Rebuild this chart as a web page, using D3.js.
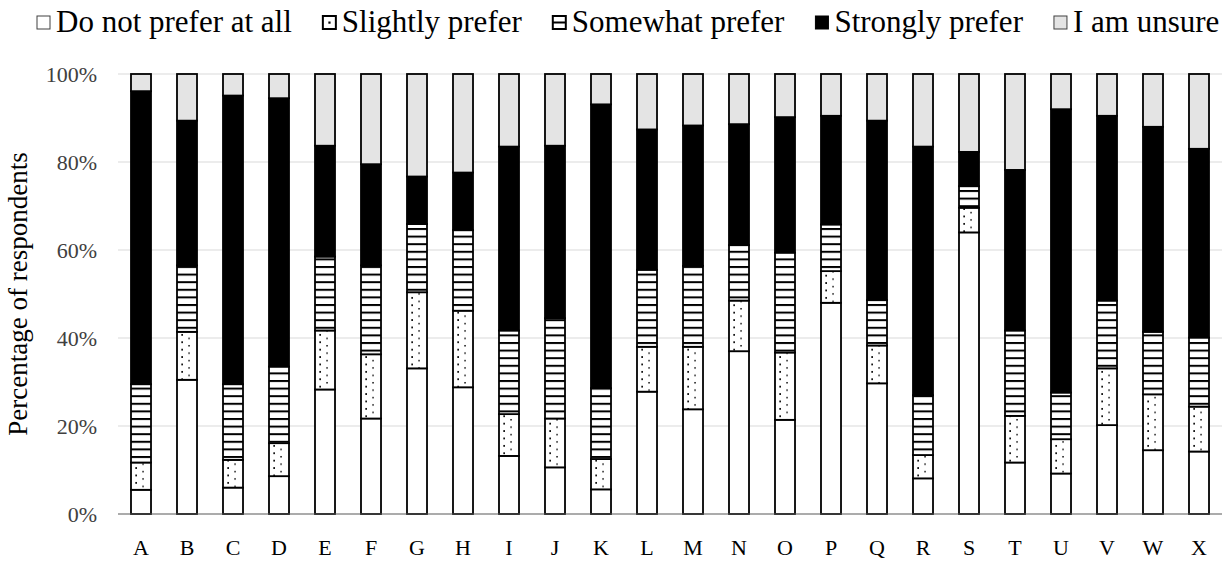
<!DOCTYPE html>
<html>
<head>
<meta charset="utf-8">
<script src="https://cdn.jsdelivr.net/npm/d3@7"></script>
<style>
  html, body { margin: 0; padding: 0; background: #fff; }
  svg { display: block; font-family: "Liberation Serif", "Times New Roman", serif; }
</style>
</head>
<body>
<svg id="chart" width="1226" height="562"></svg>
<script>
const categories = ["A","B","C","D","E","F","G","H","I","J","K","L","M","N","O","P","Q","R","S","T","U","V","W","X"];
const seriesNames = ["Do not prefer at all","Slightly prefer","Somewhat prefer","Strongly prefer","I am unsure"];
const doNotPrefer    = [5.5, 30.5, 6.0, 8.6, 28.3, 21.7, 33.1, 28.8, 13.2, 10.6, 5.6, 27.8, 23.8, 37.0, 21.4, 48.0, 29.7, 8.1, 64.0, 11.7, 9.2, 20.2, 14.5, 14.2];
const slightlyPrefer = [6.2, 10.9, 6.3, 7.5, 13.4, 14.6, 17.3, 17.4, 9.5, 11.1, 6.9, 10.2, 14.2, 11.5, 15.3, 7.2, 8.6, 5.3, 5.6, 10.6, 7.8, 12.9, 12.7, 10.2];
const somewhatPrefer = [17.8, 15.1, 17.2, 17.4, 16.8, 20.2, 15.5, 18.3, 19.0, 22.8, 16.1, 17.5, 18.4, 12.6, 22.7, 10.6, 10.3, 13.6, 4.9, 19.4, 10.6, 15.4, 14.2, 15.7];
const stronglyPrefer = [66.6, 32.9, 65.6, 61.0, 25.2, 23.0, 10.8, 13.1, 41.8, 39.2, 64.5, 31.9, 31.9, 27.5, 30.8, 24.7, 40.8, 56.5, 7.8, 36.5, 64.4, 42.0, 46.6, 42.9];
const unsure         = [3.9, 10.6, 4.9, 5.5, 16.3, 20.5, 23.3, 22.4, 16.5, 16.3, 6.9, 12.6, 11.7, 11.4, 9.8, 9.5, 10.6, 16.5, 17.7, 21.8, 8.0, 9.5, 12.0, 17.0];
const yTicks = [0, 20, 40, 60, 80, 100];
const yTickLabels = ["0%", "20%", "40%", "60%", "80%", "100%"];
const yTitle = "Percentage of respondents";

const seriesValues = [doNotPrefer, slightlyPrefer, somewhatPrefer, stronglyPrefer, unsure];
const keys = seriesNames;
const table = categories.map((c, i) => {
  const row = { cat: c };
  keys.forEach((k, j) => row[k] = seriesValues[j][i]);
  return row;
});

const svg = d3.select("#chart");
const defs = svg.append("defs");

// patterns
const pDots = defs.append("pattern").attr("id", "dots").attr("patternUnits", "userSpaceOnUse")
  .attr("width", 23).attr("height", 7.4);
pDots.append("rect").attr("width", 23).attr("height", 7.4).attr("fill", "#fff");
pDots.append("rect").attr("x", 20.3).attr("y", 1).attr("width", 1.7).attr("height", 1.7).attr("fill", "#000");
pDots.append("rect").attr("x", 4.3).attr("y", 4.6).attr("width", 1.5).attr("height", 1.5).attr("fill", "#111");

const pStripes = defs.append("pattern").attr("id", "stripes").attr("patternUnits", "userSpaceOnUse")
  .attr("width", 8).attr("height", 7.6);
pStripes.append("rect").attr("width", 8).attr("height", 7.6).attr("fill", "#fff");
pStripes.append("rect").attr("x", 0).attr("y", 0).attr("width", 8).attr("height", 2).attr("fill", "#000");

const fills = ["#ffffff", "url(#dots)", "url(#stripes)", "#000000", "#e4e4e4"];

const x = d3.scaleBand().domain(categories).range([118, 1222]).paddingInner(0.565).paddingOuter(0.2825);
const y = d3.scaleLinear().domain([0, 100]).range([514, 74]);

// gridlines
svg.append("g").selectAll("line").data(yTicks.filter(t => t > 0)).join("line")
  .attr("x1", 118).attr("x2", 1222)
  .attr("y1", d => y(d)).attr("y2", d => y(d))
  .attr("stroke", "#d9d9d9").attr("stroke-width", 1);

const stack = d3.stack().keys(keys)(table);

svg.append("g").selectAll("g").data(stack).join("g")
  .attr("fill", (d, i) => fills[i])
  .selectAll("rect").data(d => d).join("rect")
  .attr("x", d => x(d.data.cat))
  .attr("width", x.bandwidth())
  .attr("y", d => y(d[1]))
  .attr("height", d => y(d[0]) - y(d[1]))
  .attr("stroke", "#000").attr("stroke-width", 1.8);

// baseline
svg.append("line").attr("x1", 118).attr("x2", 1222).attr("y1", y(0)).attr("y2", y(0))
  .attr("stroke", "#595959").attr("stroke-width", 1.2);

// y tick labels
svg.append("g").selectAll("text").data(yTicks).join("text")
  .attr("x", 97).attr("y", d => y(d) + 7.5)
  .attr("text-anchor", "end").attr("font-size", 22).attr("fill", "#404040")
  .text((d, i) => yTickLabels[i]);

// x labels
svg.append("g").selectAll("text").data(categories).join("text")
  .attr("x", d => x(d) + x.bandwidth() / 2).attr("y", 555)
  .attr("text-anchor", "middle").attr("font-size", 22).attr("fill", "#000")
  .text(d => d);

// y title
svg.append("text")
  .attr("transform", `translate(27,${y(50)}) rotate(-90)`)
  .attr("text-anchor", "middle").attr("font-size", 27).attr("fill", "#000")
  .text(yTitle);

// legend
const leg = svg.append("g");
let lx = 37;
const boxY = 16, box = 13;
keys.forEach((k, i) => {
  const g = leg.append("g");
  const thick = (i === 1 || i === 2) ? 2 : 1;
  g.append("rect").attr("x", lx).attr("y", boxY).attr("width", box).attr("height", box)
    .attr("fill", i === 3 ? "#000" : (i === 4 ? "#e4e4e4" : "#fff"))
    .attr("stroke", i === 0 || i === 4 ? "#404040" : "#000").attr("stroke-width", thick);
  if (i === 1) g.append("rect").attr("x", lx + box / 2 - 1).attr("y", boxY + box / 2 - 1).attr("width", 2.2).attr("height", 2.2).attr("fill", "#000");
  if (i === 2) g.append("rect").attr("x", lx).attr("y", boxY + box / 2 - 1).attr("width", box).attr("height", 2).attr("fill", "#000");
  const t = g.append("text")
    .attr("x", lx + box + 6).attr("y", boxY + 15.5)
    .attr("font-size", 31).attr("fill", "#000").text(k);
  const w = t.node().getComputedTextLength();
  lx += box + 6 + w + 31;
});
</script>
</body>
</html>
